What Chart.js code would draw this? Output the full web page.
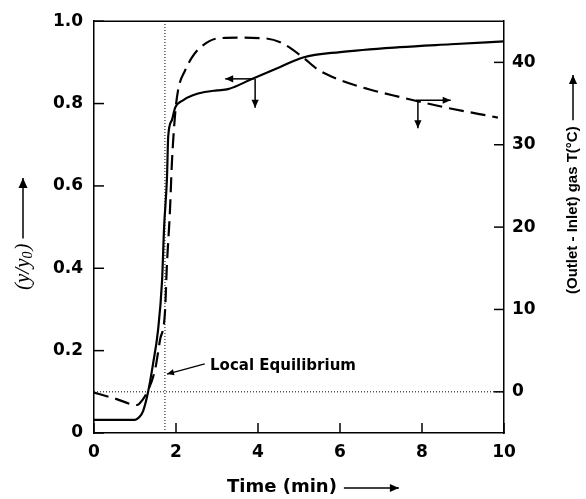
<!DOCTYPE html>
<html>
<head>
<meta charset="utf-8">
<script src="https://cdn.jsdelivr.net/npm/chart.js@4/dist/chart.umd.min.js"></script>
<style>
html,body{margin:0;padding:0;background:#fff}
</style>
</head>
<body>
<canvas id="myChart" width="586" height="499"></canvas>
<script>
// y/y0 (solid, left axis)
const solidTime  = [0, 1.0, 1.1, 1.2, 1.32, 1.44, 1.56, 1.66, 1.71, 1.78, 1.81, 1.9, 1.98, 2.17, 2.41, 2.7, 3.0, 3.27, 3.88, 4.5, 5.1, 6.0, 7.46, 8.7, 10]
const solidRatio = [0.032, 0.032, 0.038, 0.054, 0.10, 0.168, 0.248, 0.37, 0.5, 0.62, 0.72, 0.76, 0.79, 0.808, 0.82, 0.828, 0.832, 0.835, 0.861, 0.887, 0.912, 0.925, 0.937, 0.944, 0.951]

// outlet - inlet gas temperature (dashed, right axis)
const gasTime = [0, 0.5, 1.05, 1.18, 1.29, 1.49, 1.61, 1.73, 1.78, 1.85, 1.9, 1.98, 2.05, 2.22, 2.39, 2.59, 3.0, 3.5, 4.2, 4.6, 5.1, 5.44, 5.93, 6.66, 7.46, 8.5, 9.85]
const gasTemp = [-0.1, -0.8, -1.6, -1.0, -0.1, 2.7, 6.3, 9.6, 15.6, 21.7, 27.8, 33.8, 36.6, 39.0, 40.6, 41.8, 42.9, 43.0, 42.9, 42.3, 40.6, 39.2, 38.0, 36.8, 35.8, 34.6, 33.3]

// dotted guide lines
const eqTime = [1.73, 1.73]
const eqRatio = [0, 1]
const zeroTime = [0, 10]
const zeroTemp = [0, 0]

const xTicks = [0, 2, 4, 6, 8, 10]
const xTickLabels = ["0", "2", "4", "6", "8", "10"]
const leftTicks = [0, 0.2, 0.4, 0.6, 0.8, 1.0]
const leftTickLabels = ["0", "0.2", "0.4", "0.6", "0.8", "1.0"]
const rightTicks = [0, 10, 20, 30, 40]
const rightTickLabels = ["0", "10", "20", "30", "40"]

function pts(xs, ys){
    return xs.map((x, i) => ({x: x, y: ys[i]}))
}

function arrow(ctx, x1, y1, x2, y2, head){
    ctx.beginPath(); ctx.moveTo(x1, y1); ctx.lineTo(x2, y2); ctx.stroke()
    var a = Math.atan2(y2 - y1, x2 - x1)
    var w = head * 0.45
    ctx.beginPath()
    ctx.moveTo(x2, y2)
    ctx.lineTo(x2 - head*Math.cos(a) + w*Math.sin(a), y2 - head*Math.sin(a) - w*Math.cos(a))
    ctx.lineTo(x2 - head*Math.cos(a) - w*Math.sin(a), y2 - head*Math.sin(a) + w*Math.cos(a))
    ctx.closePath(); ctx.fill()
}

const decor = {
    id: 'decor',
    afterDatasetsDraw(chart){
        const ctx = chart.ctx
        const a = chart.chartArea
        const sx = chart.scales.x, sy = chart.scales.y, sy2 = chart.scales.y2
        ctx.save()
        ctx.strokeStyle = '#000'; ctx.fillStyle = '#000'
        // top frame line
        ctx.lineWidth = 1.5
        ctx.beginPath(); ctx.moveTo(a.left, a.top); ctx.lineTo(a.right, a.top); ctx.stroke()
        // inward tick marks
        sx.ticks.forEach(t => {
            var p = sx.getPixelForValue(t.value)
            ctx.beginPath(); ctx.moveTo(p, a.bottom); ctx.lineTo(p, a.bottom - 10); ctx.stroke()
        })
        sy.ticks.forEach(t => {
            var p = sy.getPixelForValue(t.value)
            ctx.beginPath(); ctx.moveTo(a.left, p); ctx.lineTo(a.left + 10, p); ctx.stroke()
        })
        sy2.ticks.forEach(t => {
            var p = sy2.getPixelForValue(t.value)
            ctx.beginPath(); ctx.moveTo(a.right, p); ctx.lineTo(a.right - 10, p); ctx.stroke()
        })
        // curve markers
        ctx.lineWidth = 1.5
        arrow(ctx, sx.getPixelForValue(3.9), sy.getPixelForValue(0.86), sx.getPixelForValue(3.2), sy.getPixelForValue(0.86), 8)
        arrow(ctx, sx.getPixelForValue(3.93), sy.getPixelForValue(0.86), sx.getPixelForValue(3.93), sy.getPixelForValue(0.79), 8)
        arrow(ctx, sx.getPixelForValue(7.85), sy2.getPixelForValue(35.4), sx.getPixelForValue(8.7), sy2.getPixelForValue(35.4), 8)
        arrow(ctx, sx.getPixelForValue(7.9), sy2.getPixelForValue(35.4), sx.getPixelForValue(7.9), sy2.getPixelForValue(32.0), 8)
        // local equilibrium note
        ctx.lineWidth = 1.2
        arrow(ctx, sx.getPixelForValue(2.7), sy.getPixelForValue(0.168), sx.getPixelForValue(1.78), sy.getPixelForValue(0.143), 7)
        ctx.font = 'bold 15px "DejaVu Sans"'
        ctx.textAlign = 'left'; ctx.textBaseline = 'middle'
        ctx.fillText('Local Equilibrium', sx.getPixelForValue(2.83), sy.getPixelForValue(0.163))

        // bottom title
        ctx.font = 'bold 18px "DejaVu Sans"'
        var tx = 227, ty = a.bottom + 54
        ctx.fillText('Time (min)', tx, ty)
        var tw = ctx.measureText('Time (min)').width
        ctx.lineWidth = 1.5
        arrow(ctx, tx + tw + 7, ty + 1, tx + tw + 62, ty + 1, 9)

        // left title, rotated
        ctx.save()
        ctx.translate(23, 290)
        ctx.rotate(-Math.PI / 2)
        ctx.textBaseline = 'middle'
        ctx.font = 'italic 21px "Liberation Serif"'
        var x0 = 0
        ctx.fillText('(y/y', x0, 0); x0 += ctx.measureText('(y/y').width
        ctx.font = 'italic 14px "Liberation Serif"'
        ctx.fillText('0', x0, 5); x0 += ctx.measureText('0').width + 1
        ctx.font = 'italic 21px "Liberation Serif"'
        ctx.fillText(')', x0, 0); x0 += ctx.measureText(')').width
        arrow(ctx, x0 + 5, 0, 290 - 178, 0, 10)
        ctx.restore()

        // right title, rotated
        ctx.save()
        ctx.translate(573, 294)
        ctx.rotate(-Math.PI / 2)
        ctx.textBaseline = 'middle'
        ctx.font = 'bold 15px "Liberation Sans"'
        var rt = '(Outlet - Inlet) gas T(\u00B0C)'
        ctx.fillText(rt, 0, 0)
        var rw = ctx.measureText(rt).width
        arrow(ctx, rw + 6, 0, 294 - 75, 0, 9)
        ctx.restore()
        ctx.restore()
    }
}

function renderChart(){
    var ctx = document.getElementById("myChart").getContext("2d")
    var tickFont = {family: '"DejaVu Sans"', size: 17, weight: 'bold'}
    new Chart(ctx, {
        type: 'line',
        data: {
            datasets: [{
                label: 'y/y0',
                data: pts(solidTime, solidRatio),
                yAxisID: 'y',
                borderColor: '#000',
                borderWidth: 2.2,
                cubicInterpolationMode: 'monotone',
                pointRadius: 0
            }, {
                label: 'gas T',
                data: pts(gasTime, gasTemp),
                yAxisID: 'y2',
                borderColor: '#000',
                borderWidth: 2.2,
                borderDash: [15, 7],
                cubicInterpolationMode: 'monotone',
                pointRadius: 0
            }, {
                label: 'equilibrium',
                data: pts(eqTime, eqRatio),
                yAxisID: 'y',
                borderColor: '#000',
                borderWidth: 1,
                borderDash: [1, 2],
                pointRadius: 0
            }, {
                label: 'zero',
                data: pts(zeroTime, zeroTemp),
                yAxisID: 'y2',
                borderColor: '#000',
                borderWidth: 1,
                borderDash: [1, 2],
                pointRadius: 0
            }]
        },
        options: {
            responsive: false,
            animation: false,
            layout: {padding: {top: 21, left: 0, right: 0, bottom: 0}},
            plugins: {legend: {display: false}, tooltip: {enabled: false}},
            scales: {
                x: {
                    type: 'linear', min: 0, max: 10,
                    grid: {display: false, drawTicks: false},
                    border: {display: true, color: '#000', width: 1.5},
                    afterBuildTicks: s => { s.ticks = xTicks.map(v => ({value: v})) },
                    afterFit: s => { s.height = 66 },
                    ticks: {
                        color: '#000', font: tickFont, padding: 9, maxRotation: 0,
                        callback: (v) => xTickLabels[xTicks.indexOf(v)]
                    }
                },
                y: {
                    type: 'linear', position: 'left', min: 0, max: 1.0,
                    grid: {display: false, drawTicks: false},
                    border: {display: true, color: '#000', width: 1.5},
                    afterBuildTicks: s => { s.ticks = leftTicks.map(v => ({value: v})) },
                    afterFit: s => { s.width = 94 },
                    ticks: {
                        color: '#000', font: tickFont, padding: 11,
                        callback: (v) => leftTickLabels[leftTicks.indexOf(v)]
                    }
                },
                y2: {
                    type: 'linear', position: 'right', min: -5, max: 45,
                    grid: {display: false, drawTicks: false},
                    border: {display: true, color: '#000', width: 1.5},
                    afterBuildTicks: s => { s.ticks = rightTicks.map(v => ({value: v})) },
                    afterFit: s => { s.width = 82 },
                    ticks: {
                        color: '#000', font: tickFont, padding: 8,
                        callback: (v) => rightTickLabels[rightTicks.indexOf(v)]
                    }
                }
            }
        },
        plugins: [decor]
    })
}

renderChart()
</script>
</body>
</html>
